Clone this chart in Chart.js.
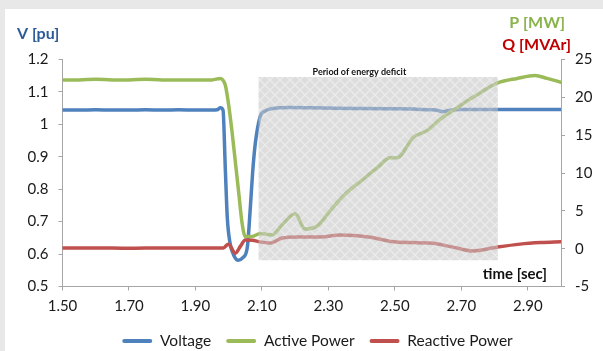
<!DOCTYPE html>
<html>
<head>
<meta charset="utf-8">
<title>Voltage, active and reactive power</title>
<script src="https://cdn.jsdelivr.net/npm/chart.js@4.4.1/dist/chart.umd.min.js"></script>
<style>
  html, body { margin: 0; padding: 0; background: #ffffff; }
  #wrap { position: relative; width: 603px; height: 351px; }
</style>
</head>
<body>
<div id="wrap"><canvas id="chart"></canvas></div>
<script>
// ---- data ----
const timeTicks = [1.50, 1.70, 1.90, 2.10, 2.30, 2.50, 2.70, 2.90];
const voltageTicks = [0.5, 0.6, 0.7, 0.8, 0.9, 1.0, 1.1, 1.2];
const powerTicks = [-5, 0, 5, 10, 15, 20, 25];

const voltageTime = [1.50, 1.55, 1.60, 1.65, 1.70, 1.75, 1.80, 1.85, 1.90, 1.95, 1.965, 1.975, 1.983,
  1.990, 1.996, 2.004, 2.016, 2.029, 2.042, 2.056, 2.065, 2.072, 2.080, 2.095, 2.108, 2.134, 2.185,
  2.25, 2.32, 2.40, 2.48, 2.56, 2.61, 2.63, 2.645, 2.66, 2.70, 2.80, 2.90, 3.00];
const voltage = [1.044, 1.044, 1.045, 1.044, 1.044, 1.045, 1.044, 1.045, 1.044, 1.044, 1.045, 1.051, 1.044,
  0.86, 0.71, 0.635, 0.595, 0.581, 0.588, 0.620, 0.74, 0.85, 0.94, 1.025, 1.040, 1.049, 1.052,
  1.051, 1.050, 1.049, 1.048, 1.047, 1.045, 1.043, 1.039, 1.043, 1.046, 1.046, 1.046, 1.046];

const activeTime = [1.50, 1.55, 1.60, 1.65, 1.70, 1.75, 1.80, 1.85, 1.90, 1.95, 1.975, 1.984, 1.99,
  2.00, 2.01, 2.02, 2.03, 2.04, 2.05, 2.07, 2.095, 2.13, 2.164, 2.20, 2.23, 2.266, 2.305, 2.35, 2.405,
  2.45, 2.486, 2.507, 2.555, 2.597, 2.636, 2.69, 2.735, 2.81, 2.868, 2.922, 2.958, 3.00];
const activePower = [22.3, 22.3, 22.4, 22.3, 22.3, 22.4, 22.3, 22.3, 22.3, 22.3, 22.5, 22.2, 21.6,
  19.0, 15.5, 11.5, 7.5, 3.5, 1.6, 1.6, 2.0, 1.8, 3.3, 4.6, 2.6, 3.0, 5.0, 7.2, 9.2,
  10.8, 12.0, 12.0, 14.7, 15.6, 17.1, 18.7, 20.0, 21.9, 22.5, 22.9, 22.5, 22.0];

const reactiveTime = [1.50, 1.60, 1.70, 1.80, 1.90, 1.96, 1.984, 1.999, 2.020, 2.035, 2.050, 2.071,
  2.095, 2.125, 2.161, 2.206, 2.275, 2.336, 2.426, 2.495, 2.55, 2.606, 2.675, 2.735, 2.807, 2.877, 2.94, 3.00];
const reactivePower = [0.1, 0.1, 0.05, 0.1, 0.1, 0.1, 0.1, 0.6, -0.6, 0.3, 1.15, 1.1,
  0.9, 0.75, 1.4, 1.55, 1.55, 1.8, 1.5, 0.9, 0.8, 0.75, 0.2, -0.3, 0.2, 0.6, 0.8, 0.9];

// deficit window, in seconds and per-unit voltage
const deficitStart = 2.09;
const deficitEnd = 2.81;
const deficitTopV = 1.146;
const deficitBottomV = 0.581;

// ---- styling ----
const FONT = 'Lato, "Liberation Sans", sans-serif';
const AXIS_GREY = '#a6a6a6';
const TEXT = '#1a1a1a';
const BLUE = '#4f81bd';
const GREEN = '#9bbb59';
const RED = '#c0504d';
const LEGEND_SHIFT = 16;

const toPoints = (xs, ys) => xs.map((x, i) => ({ x: x, y: ys[i] }));

// cross-hatched fill for the deficit window
function hatchPattern(ctx) {
  const c = document.createElement('canvas');
  c.width = 10; c.height = 10;
  const p = c.getContext('2d');
  p.fillStyle = '#c2c2c2';
  p.fillRect(0, 0, 10, 10);
  p.strokeStyle = '#dcdcdc';
  p.lineWidth = 1.3;
  p.beginPath();
  p.moveTo(-1, -1); p.lineTo(11, 11);
  p.moveTo(11, -1); p.lineTo(-1, 11);
  p.stroke();
  return ctx.createPattern(c, 'repeat');
}

const frame = {
  id: 'frame',
  afterLayout(chart) {
    // legend row sits a little right of the canvas centre
    chart.legend.left += LEGEND_SHIFT;
    chart.legend.right += LEGEND_SHIFT;
  },
  beforeDraw(chart) {
    const ctx = chart.ctx;
    ctx.save();
    ctx.fillStyle = '#e8e8e8';
    ctx.fillRect(0, 0, chart.width, chart.height);
    ctx.fillStyle = '#ffffff';
    ctx.fillRect(5, 9, chart.width - 5, chart.height - 9);
    ctx.restore();
  }
};

const overlay = {
  id: 'overlay',
  afterDatasetsDraw(chart) {
    const ctx = chart.ctx;
    const x = chart.scales.x, yv = chart.scales.yV;
    const left = x.getPixelForValue(deficitStart);
    const right = x.getPixelForValue(deficitEnd);
    const top = yv.getPixelForValue(deficitTopV);
    const bottom = yv.getPixelForValue(deficitBottomV);
    ctx.save();
    ctx.globalAlpha = 0.56;
    ctx.fillStyle = hatchPattern(ctx);
    ctx.fillRect(left, top, right - left, bottom - top);
    ctx.restore();

    ctx.save();
    ctx.fillStyle = '#111111';
    ctx.font = 'bold 9px ' + FONT;
    ctx.textAlign = 'left';
    ctx.textBaseline = 'middle';
    ctx.fillText('Period of energy deficit', left + 54, top - 5);

    ctx.font = 'bold 15px ' + FONT;
    ctx.textAlign = 'right';
    ctx.fillText('time [sec]', chart.chartArea.right - 14, chart.chartArea.bottom - 12);

    ctx.font = 'bold 16px ' + FONT;
    ctx.textAlign = 'left';
    ctx.fillStyle = '#2c5b96';
    ctx.fillText('V [pu]', 17, 34);

    ctx.textAlign = 'right';
    ctx.fillStyle = '#8ab34c';
    ctx.fillText('P [MW]', 565, 23);
    ctx.fillStyle = '#c00000';
    ctx.fillText('Q [MVAr]', 571, 45);
    ctx.restore();
  }
};

const lineStyle = {
  borderWidth: 3.5,
  pointRadius: 0,
  pointHoverRadius: 0,
  fill: false,
  cubicInterpolationMode: 'monotone',
  borderCapStyle: 'round',
  borderJoinStyle: 'round'
};

const tickFont = { family: FONT, size: 15 };

new Chart(document.getElementById('chart'), {
  type: 'line',
  data: {
    datasets: [
      Object.assign({ label: 'Voltage', data: toPoints(voltageTime, voltage), yAxisID: 'yV',
        borderColor: BLUE, backgroundColor: BLUE, order: 3 }, lineStyle),
      Object.assign({ label: 'Active Power', data: toPoints(activeTime, activePower), yAxisID: 'yP',
        borderColor: GREEN, backgroundColor: GREEN, order: 2 }, lineStyle),
      Object.assign({ label: 'Reactive Power', data: toPoints(reactiveTime, reactivePower), yAxisID: 'yP',
        borderColor: RED, backgroundColor: RED, order: 1 }, lineStyle)
    ]
  },
  options: {
    responsive: true,
    maintainAspectRatio: false,
    animation: false,
    events: [],
    layout: { padding: { top: 59.5, left: 0, right: 0, bottom: -7.75 } },
    scales: {
      x: {
        type: 'linear',
        min: 1.5,
        max: 3.0,
        afterBuildTicks: s => { s.ticks = timeTicks.map(v => ({ value: v })); },
        afterFit: s => { s.height = 31.75; },
        ticks: { callback: v => Number(v).toFixed(2), autoSkip: false, maxRotation: 0,
          padding: 7, font: tickFont, color: TEXT },
        grid: { drawOnChartArea: false, drawTicks: true, tickLength: 4, tickColor: AXIS_GREY, color: AXIS_GREY },
        border: { display: true, color: AXIS_GREY, width: 1 }
      },
      yV: {
        type: 'linear',
        position: 'left',
        min: 0.5,
        max: 1.2,
        afterBuildTicks: s => { s.ticks = voltageTicks.map(v => ({ value: v })); },
        afterFit: s => { s.width = 62.5; },
        ticks: { callback: v => String(Number(Number(v).toFixed(1))), padding: 10, font: tickFont, color: TEXT },
        grid: { drawOnChartArea: false, drawTicks: true, tickLength: 4, tickColor: AXIS_GREY, color: AXIS_GREY },
        border: { display: true, color: AXIS_GREY, width: 1 }
      },
      yP: {
        type: 'linear',
        position: 'right',
        min: -5,
        max: 25,
        afterBuildTicks: s => { s.ticks = powerTicks.map(v => ({ value: v })); },
        afterFit: s => { s.width = 42; },
        ticks: { callback: v => String(v), padding: 10, font: tickFont, color: TEXT },
        grid: { drawOnChartArea: false, drawTicks: true, tickLength: 4, tickColor: AXIS_GREY, color: AXIS_GREY },
        border: { display: true, color: AXIS_GREY, width: 1 }
      }
    },
    plugins: {
      tooltip: { enabled: false },
      legend: {
        position: 'bottom',
        labels: {
          font: { family: FONT, size: 15.5 },
          color: TEXT,
          boxWidth: 30,
          boxHeight: 4,
          padding: 15,
          sort: (a, b) => a.datasetIndex - b.datasetIndex,
          generateLabels: chart => Chart.defaults.plugins.legend.labels.generateLabels(chart)
            .map(l => Object.assign(l, { lineWidth: 0, borderRadius: 2 }))
        }
      }
    }
  },
  plugins: [frame, overlay]
});
</script>
</body>
</html>
